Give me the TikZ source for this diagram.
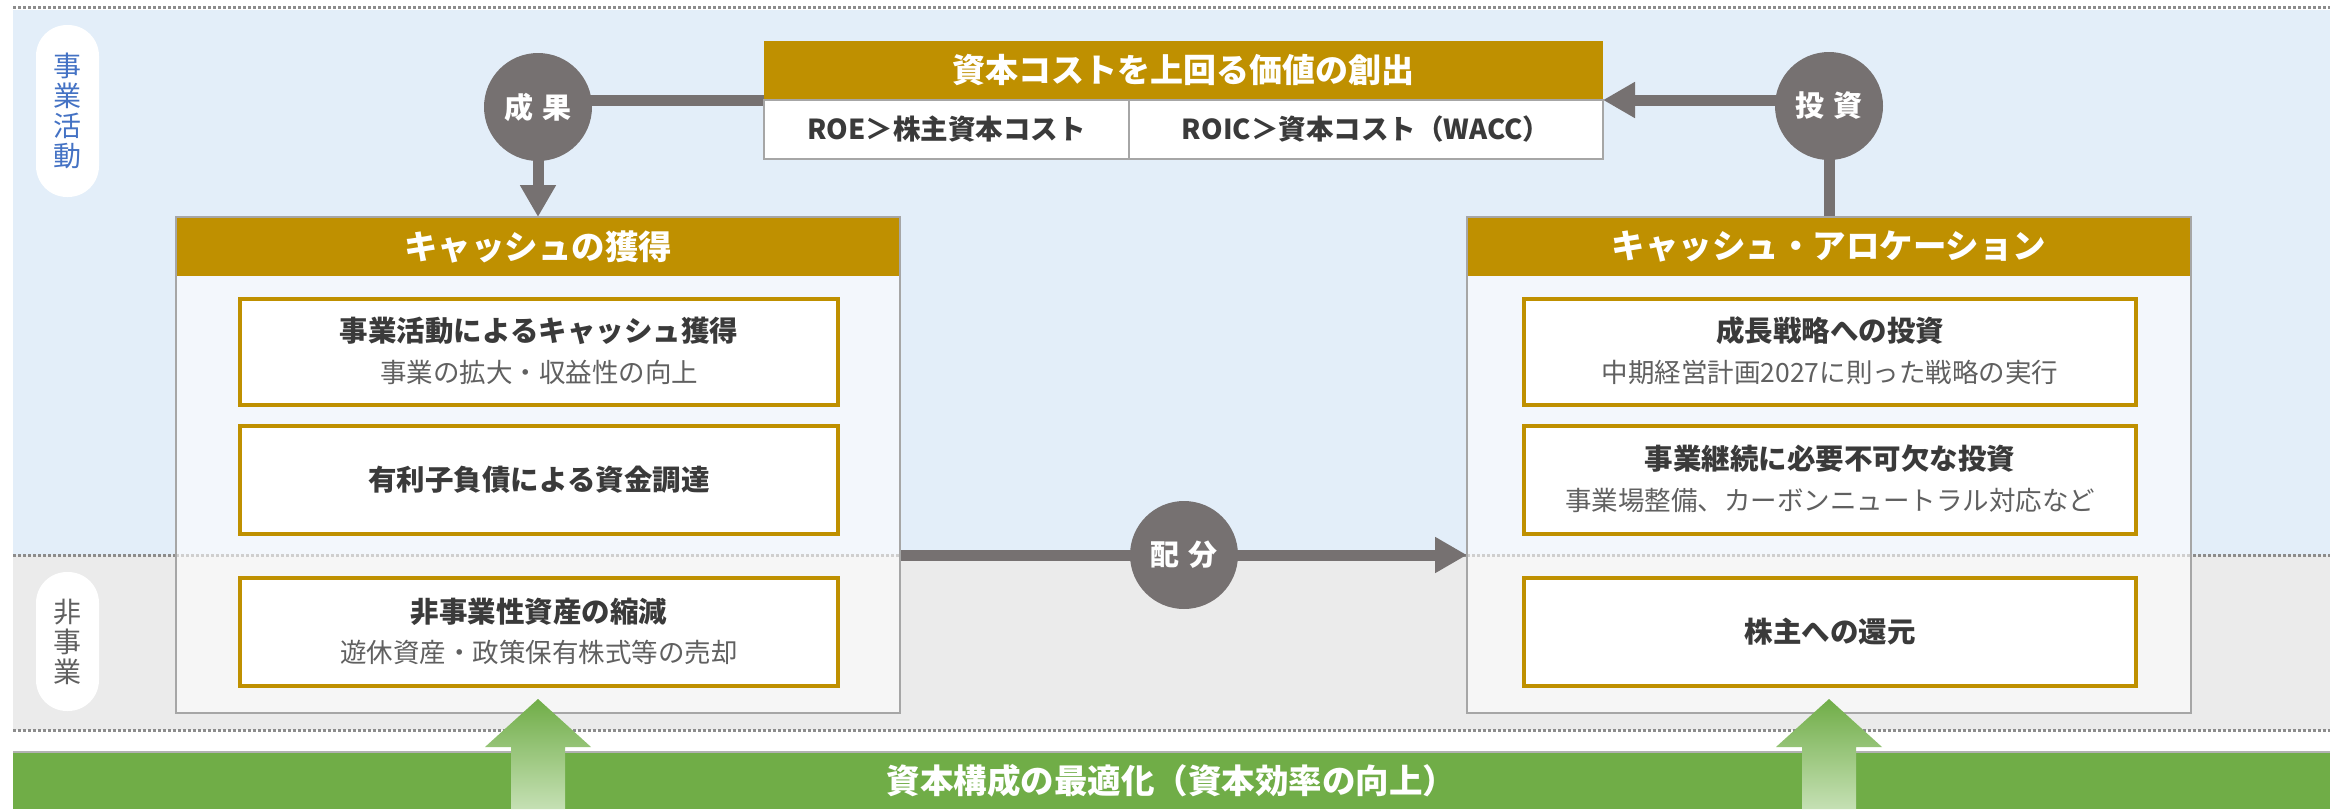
\documentclass[tikz,border=0pt]{standalone}
\usepackage{fontspec}
\setmainfont{Noto Sans CJK JP}
\usetikzlibrary{arrows.meta,calc}
\definecolor{bgblue}{HTML}{E3EEF9}
\definecolor{bggray}{HTML}{EBEBEB}
\definecolor{gold}{HTML}{BF9000}
\definecolor{circgray}{HTML}{767171}
\definecolor{boxedge}{HTML}{A6A6A6}
\definecolor{upfill}{HTML}{F3F7FC}
\definecolor{lofill}{HTML}{F6F6F6}
\definecolor{dotcol}{HTML}{8C8C8C}
\definecolor{dotlightcol}{HTML}{CFCFCF}
\definecolor{txt}{HTML}{3A3A3A}
\definecolor{subtxt}{HTML}{606060}
\definecolor{grn}{HTML}{70AD47}
\definecolor{lgrn}{HTML}{C5E0B4}
\definecolor{lblue}{HTML}{4472C4}
\pgfdeclarelayer{back}
\pgfdeclarelayer{links}
\pgfsetlayers{back,links,main}
\begin{document}
\begin{tikzpicture}[x=1pt,y=-1pt,
  every node/.style={inner sep=0pt,outer sep=0pt},
  dotline/.style={draw=dotcol,line width=3pt,dash pattern=on 3pt off 2pt},
  dotlight/.style={draw=dotlightcol,line width=3pt,dash pattern=on 3pt off 2pt},
  tophead/.style={rectangle,fill=gold,text=white,minimum width=839,minimum height=59,font=\fontsize{33}{38}\selectfont\bfseries},
  cell/.style={rectangle,fill=white,draw=boxedge,line width=1.2pt,minimum height=59,text=txt,font=\fontsize{27.5}{32}\selectfont\bfseries},
  bighead/.style={rectangle,fill=gold,text=white,minimum width=724,minimum height=59,font=\fontsize{33.5}{38}\selectfont\bfseries},
  bigbox/.style={rectangle,draw=boxedge,line width=1.5pt,minimum width=724,minimum height=496},
  ibox/.style={rectangle,fill=white,draw=gold,line width=4pt},
  ititle/.style={text=txt,font=\fontsize{28.5}{33}\selectfont\bfseries},
  isub/.style={text=subtxt,font=\fontsize{26.5}{31}\selectfont},
  circnode/.style={circle,fill=circgray,minimum size=108,text=white,font=\fontsize{29}{33}\selectfont\bfseries},
  conn/.style={draw=circgray,line width=11pt},
  bigtip/.style={-{Triangle[width=34pt,length=32pt]}},
  pill/.style={rectangle,rounded corners=31pt,fill=white,minimum width=63,align=center},
  band/.style={rectangle,fill=grn,text=white,font=\fontsize{33.5}{38}\selectfont\bfseries}
]
\useasboundingbox (0,0) rectangle (2330,809);
\begin{pgfonlayer}{back}
  \fill[white] (0,0) rectangle (2330,809);
  \fill[bgblue] (13,10) rectangle (2330,555);
  \fill[bggray] (13,555) rectangle (2330,730);
  \draw[dotline] (13,7.5) -- (2330,7.5);
  \draw[dotline] (13,555) -- (2330,555);
  \draw[dotline] (13,730) -- (2330,730);
  \fill[upfill] (176,276) rectangle (900,555);
  \fill[lofill] (176,555) rectangle (900,713);
  \draw[dotlight] (176,555) -- (900,555);
  \fill[upfill] (1467,276) rectangle (2191,555);
  \fill[lofill] (1467,555) rectangle (2191,713);
  \draw[dotlight] (1467,555) -- (2191,555);
\end{pgfonlayer}

% side labels
\node[pill,minimum height=172] (pact) at (67.5,111) {};
\node[text=lblue,align=center,font=\fontsize{28}{30}\selectfont] (pactt) at (pact.center) {事\\業\\活\\動};
\node[pill,minimum height=139] (pnon) at (67.5,641.5) {};
\node[text=subtxt,align=center,font=\fontsize{28}{30}\selectfont] (pnont) at (pnon.center) {非\\事\\業};

% top box
\node[tophead] (toph) at (1183.5,70.5) {資本コストを上回る価値の創出};
\node[cell,minimum width=365] (roe) at (946.5,129.5) {ROE＞株主資本コスト};
\node[cell,minimum width=474] (roic) at (1366,129.5) {ROIC＞資本コスト（WACC）};

% left big box
\node[bighead] (lhead) at (538,246.5) {キャッシュの獲得};
\node[bigbox] (lbox) at (538,465) {};
\node[ibox,minimum width=598,minimum height=106] (l1) at (539,352) {};
\node[ititle] (l1t) at ($(l1.center)+(0,-21)$) {事業活動によるキャッシュ獲得};
\node[isub] (l1s) at ($(l1.center)+(0,20)$) {事業の拡大・収益性の向上};
\node[ibox,minimum width=598,minimum height=108] (l2) at (539,480) {};
\node[ititle] (l2t) at (l2.center) {有利子負債による資金調達};
\node[ibox,minimum width=598,minimum height=108] (l3) at (539,632) {};
\node[ititle] (l3t) at ($(l3.center)+(0,-20)$) {非事業性資産の縮減};
\node[isub] (l3s) at ($(l3.center)+(0,20)$) {遊休資産・政策保有株式等の売却};

% right big box
\node[bighead] (rhead) at (1829,246.5) {キャッシュ・アロケーション};
\node[bigbox] (rbox) at (1829,465) {};
\node[ibox,minimum width=612,minimum height=106] (r1) at (1830,352) {};
\node[ititle] (r1t) at ($(r1.center)+(0,-21)$) {成長戦略への投資};
\node[isub] (r1s) at ($(r1.center)+(0,20)$) {中期経営計画2027に則った戦略の実行};
\node[ibox,minimum width=612,minimum height=108] (r2) at (1830,480) {};
\node[ititle] (r2t) at ($(r2.center)+(0,-21)$) {事業継続に必要不可欠な投資};
\node[isub] (r2s) at ($(r2.center)+(0,20)$) {事業場整備、カーボンニュートラル対応など};
\node[ibox,minimum width=612,minimum height=108] (r3) at (1830,632) {};
\node[ititle] (r3t) at (r3.center) {株主への還元};

% circles
\node[circnode] (seika) at (538,107) {成\hspace{10pt}果};
\node[circnode] (toushi) at (1829,106) {投\hspace{10pt}資};
\node[circnode] (haibun) at (1184,555) {配\hspace{10pt}分};

% connectors
\begin{pgfonlayer}{links}
  \draw[conn] (seika.center |- toph.south) -- (toph.south west);
  \draw[conn,bigtip] (seika.center) -- (lhead.north);
  \draw[conn] (toushi.center) -- (rhead.north);
  \draw[conn,bigtip] (toushi.center |- toph.south east) -- (toph.south east);
  \draw[conn,bigtip] (lbox.east |- haibun.center) -- (rbox.west |- haibun.center);
\end{pgfonlayer}

% green band
\draw[gray!60,line width=1.5pt] (13,752) -- (2330,752);
\node[band,minimum width=2317,minimum height=56] (band) at (1171.5,781) {資本構成の最適化（資本効率の向上）};

% green arrows
\shade[top color=grn,bottom color=lgrn] (538,699) -- (591,747) -- (565,747) -- (565,809) -- (511,809) -- (511,747) -- (485,747) -- cycle;
\shade[top color=grn,bottom color=lgrn] (1829,699) -- (1882,747) -- (1856,747) -- (1856,809) -- (1802,809) -- (1802,747) -- (1776,747) -- cycle;
\end{tikzpicture}
\end{document}
